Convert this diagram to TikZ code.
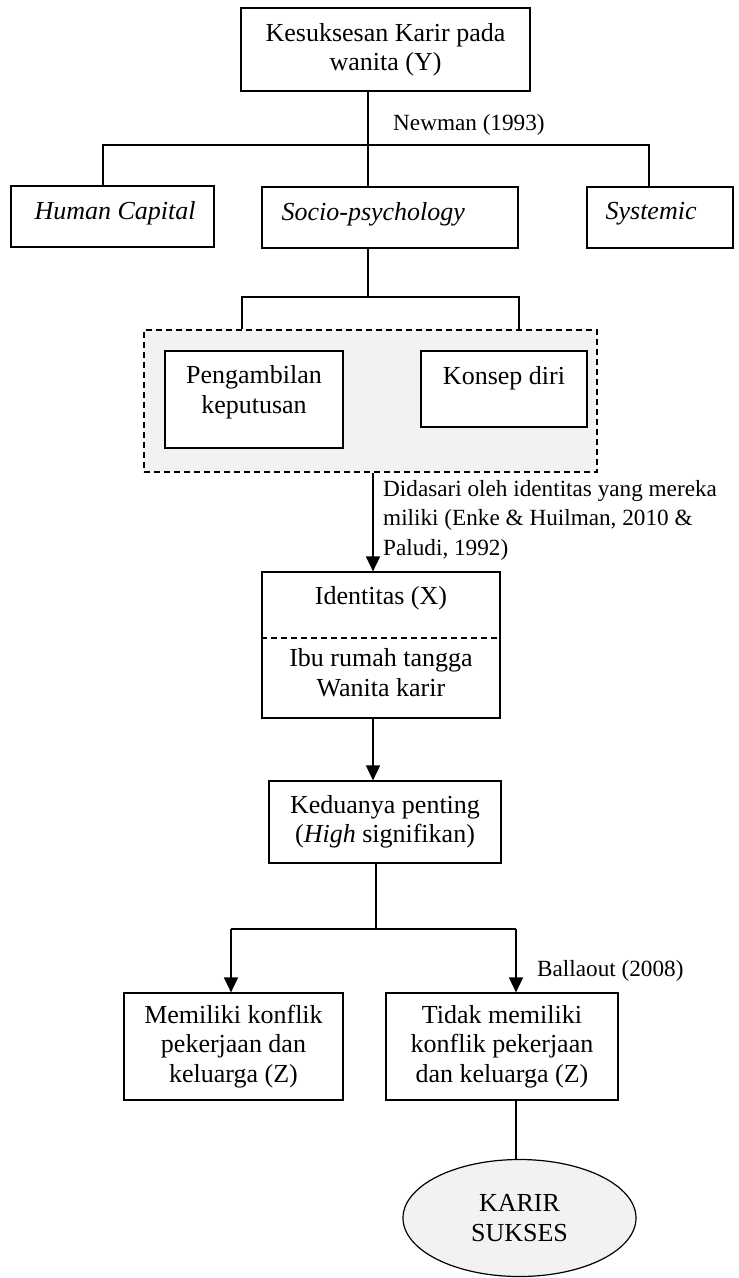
\documentclass[tikz,border=0pt]{standalone}
\usepackage{fontspec}
\setmainfont{Liberation Serif}
\usetikzlibrary{arrows.meta,shapes.geometric}
\definecolor{lg}{HTML}{F2F2F2}
\begin{document}
\begin{tikzpicture}[x=1pt,y=-1pt,
  font=\fontsize{26}{29.5}\selectfont,
  box/.style={draw,line width=1.2pt,inner sep=0pt,align=center},
  conn/.style={line width=1.2pt},
  arr/.style={line width=1.7pt,-{Triangle[length=15pt,width=14pt]}},
  grpbox/.style={draw,line width=1.2pt,dash pattern=on 6pt off 4pt,fill=lg,inner sep=0pt},
  lbl/.style={inner sep=0pt,align=left,font=\fontsize{23.2}{29.5}\selectfont}
]
\useasboundingbox (0,0) rectangle (739,1278);

% top
\node[box,minimum width=289pt,minimum height=83pt] (top) at (385.5,49.5) {Kesuksesan Karir pada\\wanita (Y)};
\node[box,minimum width=203pt,minimum height=61pt,
  label={[anchor=west,inner sep=0pt,xshift=24pt,yshift=3.5pt]west:\textit{Human Capital}}] (hc) at (112.5,216.5) {};
\node[box,minimum width=256pt,minimum height=61pt,
  label={[anchor=west,inner sep=0pt,xshift=20pt,yshift=3.5pt]west:\textit{Socio-psychology}}] (socio) at (390,217.5) {};
\node[box,minimum width=146pt,minimum height=61pt,
  label={[anchor=west,inner sep=0pt,xshift=19pt,yshift=3.5pt]west:\textit{Systemic}}] (sys) at (660,217.5) {};

\coordinate (j1) at (368,145);
\coordinate (hcj) at (103,145);
\coordinate (sysj) at (649,145);
\draw[conn] (top.south -| j1) -- (j1);
\draw[conn] (hc.north -| hcj) -- (hcj) -- (sysj) -- (sys.north -| sysj);
\draw[conn] (j1) -- (socio.north -| j1);
\node[lbl,anchor=west] (newman) at (393,125) {Newman (1993)};

% group
\node[grpbox,minimum width=453pt,minimum height=142pt] (grp) at (370.5,401) {};
\node[box,fill=white,minimum width=178pt,minimum height=97pt,
  label={[align=center,inner sep=0pt,yshift=7.5pt]center:Pengambilan\\keputusan}] (peng) at (254,399.5) {};
\node[box,fill=white,minimum width=166pt,minimum height=76pt,
  label={[inner sep=0pt,yshift=11pt]center:Konsep diri}] (konsep) at (504,389) {};

\coordinate (j2) at (368,297);
\coordinate (pl) at (242,297);
\coordinate (pr) at (519,297);
\draw[conn] (socio.south -| j2) -- (j2);
\draw[conn] (grp.north -| pl) -- (pl) -- (pr) -- (grp.north -| pr);

% identitas
\node[box,minimum width=238pt,minimum height=146pt,
  label={[inner sep=0pt,yshift=47pt]center:Identitas (X)},
  label={[align=center,inner sep=0pt,yshift=-27.5pt]center:Ibu rumah tangga\\Wanita karir}] (ident) at (381,645) {};
\coordinate (dv) at (0,638);
\draw[line width=1.2pt,dash pattern=on 6pt off 4pt] (ident.west |- dv) -- (ident.east |- dv);

\coordinate (a1) at (373,0);
\draw[arr] (grp.south -| a1) -- (ident.north -| a1);
\node[lbl,anchor=north west] (didasari) at (383,480) {Didasari oleh identitas yang mereka\\miliki (Enke \& Huilman, 2010 \&\\Paludi, 1992)};

% keduanya
\node[box,minimum width=232pt,minimum height=82pt] (kedu) at (385,822) {Keduanya penting\\(\textit{High} signifikan)};
\draw[arr] (ident.south -| a1) -- (kedu.north -| a1);

\coordinate (j3) at (376,929);
\coordinate (bl) at (231,929);
\coordinate (br) at (516,929);
\draw[conn] (kedu.south -| j3) -- (j3);
\node[box,minimum width=219pt,minimum height=107pt] (memi) at (233.5,1046.5) {Memiliki konflik\\pekerjaan dan\\keluarga (Z)};
\node[box,minimum width=232pt,minimum height=107pt] (tidak) at (502,1046.5) {Tidak memiliki\\konflik pekerjaan\\dan keluarga (Z)};
\draw[conn] (bl) -- (br);
\draw[arr] (bl) -- (memi.north -| bl);
\draw[arr] (br) -- (tidak.north -| br);
\node[lbl,anchor=west] (ballaout) at (537,971) {Ballaout (2008)};

% ellipse
\node[draw,ellipse,line width=1.2pt,fill=lg,inner sep=0pt,align=center,minimum width=233pt,minimum height=117pt] (ell) at (519.5,1218) {KARIR\\SUKSES};
\draw[conn] (tidak.south -| br) -- (ell.north -| br);
\end{tikzpicture}
\end{document}
